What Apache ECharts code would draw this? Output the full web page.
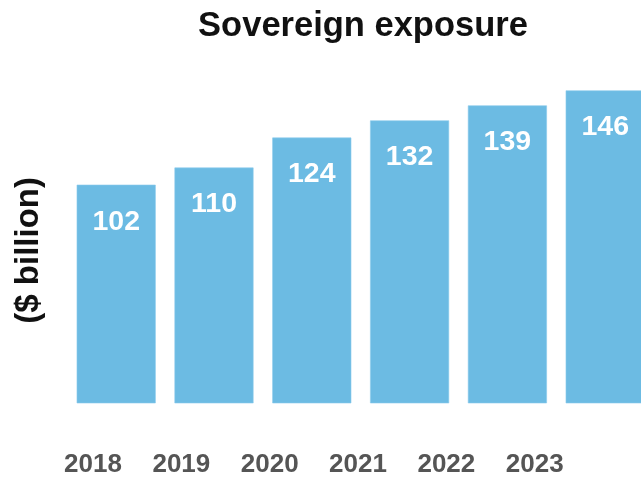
<!DOCTYPE html>
<html>
<head>
<meta charset="utf-8">
<style>
  html, body { margin: 0; padding: 0; background: #ffffff; }
  #chart { width: 641px; height: 483px; }
</style>
<script src="https://cdn.jsdelivr.net/npm/echarts@6/dist/echarts.min.js"></script>
</head>
<body>
<div id="chart"></div>
<script>
// Sovereign exposure, $ billion, by year
const years = ['2018', '2019', '2020', '2021', '2022', '2023'];
const exposure = [102, 110, 124, 132, 139, 146];

const FONT = '"Liberation Sans", Arial, Helvetica, sans-serif';

const chart = echarts.init(document.getElementById('chart'), null, { renderer: 'canvas' });

chart.setOption({
  backgroundColor: '#ffffff',
  animation: false,
  title: {
    text: 'Sovereign exposure',
    left: 358,
    top: 4,
    textAlign: 'center',
    textStyle: { fontFamily: FONT, fontWeight: 'bold', fontSize: 34.5, color: '#111111' }
  },
  grid: [
    // bars (the last one runs past the right edge)
    { left: 67.3, width: 586.8, top: 60.4, bottom: 79.7, outerBoundsMode: 'none', containLabel: false },
    // year labels row
    { left: 48.85, width: 530, top: 60.4, bottom: 79.7, outerBoundsMode: 'none', containLabel: false }
  ],
  xAxis: [
    {
      type: 'category', gridIndex: 0, data: years,
      axisLine: { show: false }, axisTick: { show: false }, axisLabel: { show: false }
    },
    {
      type: 'category', gridIndex: 1, data: years,
      axisLine: { show: false }, axisTick: { show: false },
      axisLabel: {
        margin: 49,
        fontFamily: FONT, fontWeight: 'bold', fontSize: 26, color: '#555555'
      }
    }
  ],
  yAxis: [
    {
      type: 'value', gridIndex: 0, min: 0, max: 160,
      axisLine: { show: false }, axisTick: { show: false },
      axisLabel: { show: false }, splitLine: { show: false }
    },
    {
      type: 'value', gridIndex: 1, min: 0, max: 160, show: false
    }
  ],
  graphic: [
    {
      type: 'text',
      left: 12,
      top: 177,
      rotation: Math.PI / 2,
      style: {
        text: '($ billion)',
        fontFamily: FONT, fontWeight: 'bold', fontSize: 33, fill: '#111111'
      }
    }
  ],
  series: [
    {
      type: 'bar',
      xAxisIndex: 0, yAxisIndex: 0,
      data: exposure,
      barCategoryGap: '19.2%',
      itemStyle: { color: '#6cbbe3', borderColor: '#8ccbec', borderWidth: 0.6 },
      label: {
        show: true,
        position: ['50%', 37],
        align: 'center',
        verticalAlign: 'middle',
        fontFamily: FONT, fontWeight: 'bold', fontSize: 28.5, color: '#ffffff'
      }
    }
  ]
});
</script>
</body>
</html>
